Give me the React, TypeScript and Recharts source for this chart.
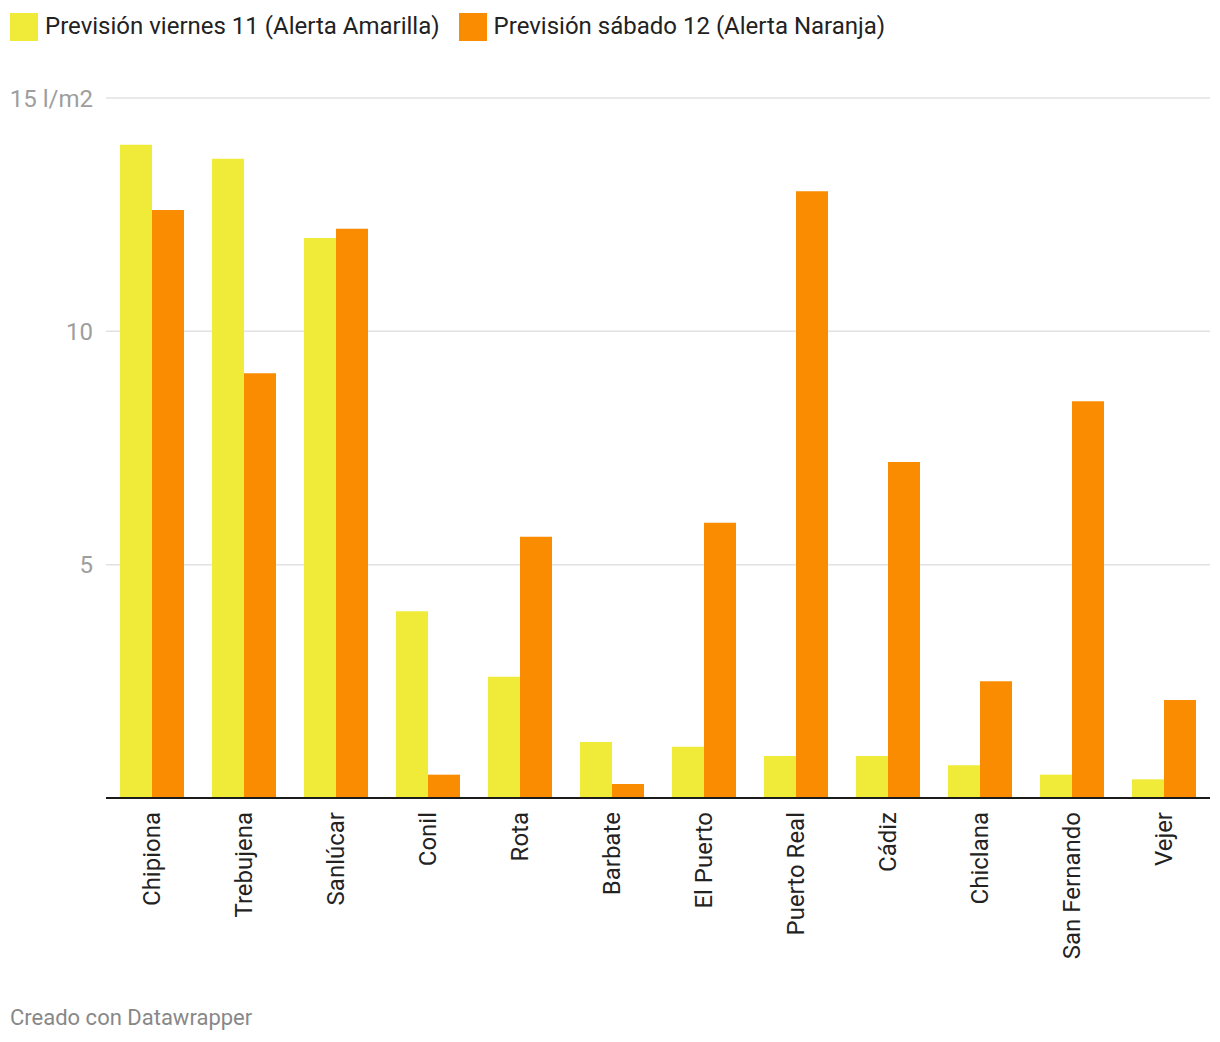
import { BarChart, Bar, XAxis, YAxis, CartesianGrid } from 'recharts';

const cities = [
  'Chipiona',
  'Trebujena',
  'Sanlúcar',
  'Conil',
  'Rota',
  'Barbate',
  'El Puerto',
  'Puerto Real',
  'Cádiz',
  'Chiclana',
  'San Fernando',
  'Vejer',
];
const viernes = [14.0, 13.7, 12.0, 4.0, 2.6, 1.2, 1.1, 0.9, 0.9, 0.7, 0.5, 0.4];
const sabado = [12.6, 9.1, 12.2, 0.5, 5.6, 0.3, 5.9, 13.0, 7.2, 2.5, 8.5, 2.1];
const yTicks = [5, 10, 15];

const series = [
  { key: 'viernes', name: 'Previsión viernes 11 (Alerta Amarilla)', color: '#efeb38' },
  { key: 'sabado', name: 'Previsión sábado 12 (Alerta Naranja)', color: '#f98c00' },
];

const data = cities.map((city, i) => ({ city, viernes: viernes[i], sabado: sabado[i] }));

if (typeof document !== 'undefined') document.body.style.margin = '0';

const FONT = 'Roboto, "DejaVu Sans", sans-serif';

// rotated city names, reading upwards from under the axis
const CityTick = ({ x, y, payload }: any) => (
  <text
    transform={`translate(${x},${y + 6}) rotate(-90)`}
    textAnchor="end"
    dy="0.35em"
    fontSize={24}
    fill="#222"
    fontFamily={FONT}
  >
    {payload.value}
  </text>
);

export default function App() {
  return (
    <div style={{ position: 'relative', width: 1220, height: 1042, background: '#fff', fontFamily: FONT }}>
      <div style={{ position: 'absolute', top: 13, left: 10, display: 'flex', gap: 19, alignItems: 'center' }}>
        {series.map(s => (
          <div key={s.key} style={{ display: 'flex', alignItems: 'center', gap: 7 }}>
            <div style={{ width: 28, height: 28, background: s.color }} />
            <span style={{ fontSize: 24, color: '#222', lineHeight: '28px', marginTop: -3 }}>{s.name}</span>
          </div>
        ))}
      </div>
      <div style={{ position: 'absolute', top: 0, left: 0 }}>
        <BarChart
          width={1220}
          height={1000}
          data={data}
          margin={{ top: 98, right: 10, left: 0, bottom: 0 }}
          barCategoryGap={14}
          barGap={0}
        >
          <CartesianGrid vertical={false} stroke="#e2e2e2" strokeWidth={1.5} />
          <XAxis
            dataKey="city"
            interval={0}
            height={202}
            tickLine={false}
            axisLine={{ stroke: '#1a1a1a', strokeWidth: 2 }}
            tick={<CityTick />}
          />
          <YAxis
            domain={[0, 15]}
            ticks={yTicks}
            width={106}
            axisLine={false}
            tickLine={false}
            tickSize={0}
            tickMargin={13}
            tick={{ fontSize: 24, fill: '#9e9e9e', fontFamily: FONT }}
            tickFormatter={(v: number) => (v === 15 ? '15 l/m2' : String(v))}
          />
          {series.map(s => (
            <Bar key={s.key} dataKey={s.key} name={s.name} fill={s.color} isAnimationActive={false} />
          ))}
        </BarChart>
      </div>
      <div style={{ position: 'absolute', top: 1005, left: 10, fontSize: 22, color: '#888', lineHeight: '26px' }}>
        Creado con Datawrapper
      </div>
    </div>
  );
}
